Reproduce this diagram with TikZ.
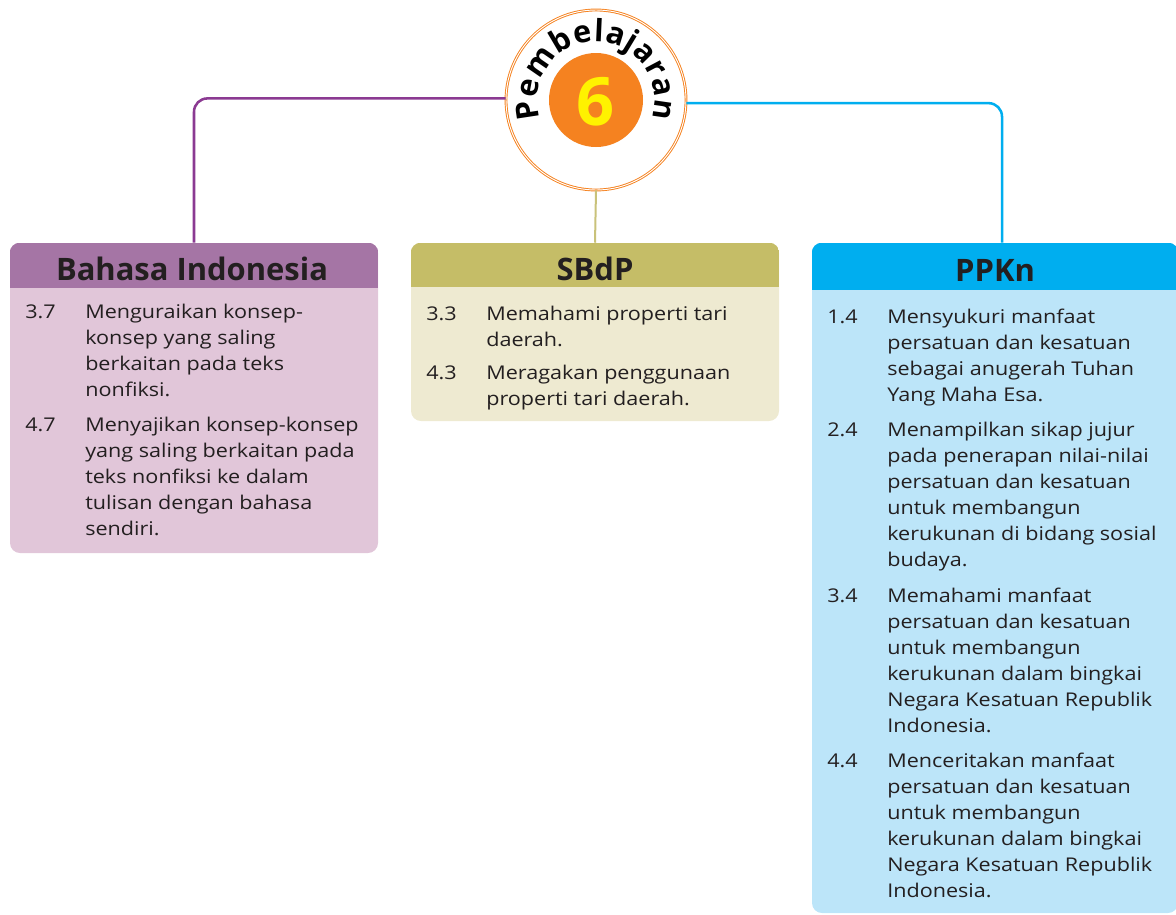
\documentclass[tikz,border=0pt]{standalone}
\usepackage{fontspec}
\setmainfont{Open Sans}
\newfontfamily\isifont[FakeStretch=1.14]{Open Sans}
\usetikzlibrary{positioning,fit,decorations.text}

\definecolor{biline}{HTML}{8B3A92}
\definecolor{bihead}{HTML}{A575A5}
\definecolor{bibody}{HTML}{E1C6D9}
\definecolor{sbline}{HTML}{C9C27A}
\definecolor{sbhead}{HTML}{C5BD67}
\definecolor{sbbody}{HTML}{EEEAD1}
\definecolor{ppline}{HTML}{00AEEF}
\definecolor{pphead}{HTML}{00AEEF}
\definecolor{ppbody}{HTML}{BCE5F9}
\definecolor{jeruk}{HTML}{F58220}
\definecolor{kuning}{HTML}{FFF200}
\definecolor{tinta}{HTML}{231F20}

\tikzset{
  kotak/.style={inner sep=0pt, rounded corners=7.5pt},
  judul/.style={anchor=base, text=tinta, font=\fontsize{23.2}{26}\selectfont\bfseries},
  isi/.style={anchor=north west, inner sep=0pt, text=tinta,
    font=\isifont\fontsize{14.2}{19.5}\selectfont},
  garis/.style={line width=1.9pt, rounded corners=10pt},
}

\begin{document}
\begin{tikzpicture}[x=0.75pt, y=-0.75pt]
\useasboundingbox (0,0) rectangle (1176,914);

% lingkaran pembelajaran
\node[circle, draw=jeruk, double=white, line width=0.7pt, double distance=0.7pt,
  minimum size=135pt, fill=white] (circ) at (596,100) {};
\node[circle, fill=jeruk, minimum size=70.5pt] (enam) at (circ.center) {};
\node[text=kuning, font=\fontsize{50}{50}\selectfont\bfseries] (angka) at ([yshift=-1.5pt]enam.center) {6};
\path[decorate, decoration={text along path, text align={fit to path},
    text={|\fontsize{23}{23}\selectfont\bfseries|Pembelajaran}}]
  ([shift={(198:44pt)}]circ.center) arc[start angle=198, end angle=-18, radius=44pt];

% kotak mata pelajaran
\node[kotak, fill=bibody, fit={(10,243) (378,553)}] (bi) {};
\node[kotak, fill=sbbody, fit={(411,243) (779,421)}] (sb) {};
\node[kotak, fill=ppbody, fit={(812,243) (1178,913)}] (pp) {};
\foreach \n/\c/\h in {bi/bihead/288, sb/sbhead/287, pp/pphead/290}{
  \begin{scope}
    \clip[rounded corners=7.5pt] (\n.north west) rectangle (\n.south east);
    \fill[\c] (\n.north west) rectangle (\n.east |- 0,\h);
  \end{scope}
}

\node[judul] (bijudul) at (192,280) {Bahasa Indonesia};
\node[judul] (sbjudul) at (595,280) {SBdP};
\node[judul] (ppjudul) at (995,281) {PPKn};

% penghubung
\draw[garis, biline] (circ.179) -| (bi.north);
\draw[garis, sbline, line width=1.5pt] (circ.south) -- (sb.north);
\draw[garis, ppline] (circ.358) -| ([xshift=5.25pt]pp.north);

% isi kompetensi
\node[isi] (biisi) at (25,300) {\begin{tabular}{@{}p{45pt}@{}l@{}}
3.7 & Menguraikan konsep-\\
    & konsep yang saling\\
    & berkaitan pada teks\\
    & nonfiksi.\\[7pt]
4.7 & Menyajikan konsep-konsep\\
    & yang saling berkaitan pada\\
    & teks nonfiksi ke dalam\\
    & tulisan dengan bahasa\\
    & sendiri.
\end{tabular}};

\node[isi] (sbisi) at (426,302) {\begin{tabular}{@{}p{45pt}@{}l@{}}
3.3 & Memahami properti tari\\
    & daerah.\\[5pt]
4.3 & Meragakan penggunaan\\
    & properti tari daerah.
\end{tabular}};

\node[isi] (ppisi) at (827,305) {\begin{tabular}{@{}p{45pt}@{}l@{}}
1.4 & Mensyukuri manfaat\\
    & persatuan dan kesatuan\\
    & sebagai anugerah Tuhan\\
    & Yang Maha Esa.\\[7pt]
2.4 & Menampilkan sikap jujur\\
    & pada penerapan nilai-nilai\\
    & persatuan dan kesatuan\\
    & untuk membangun\\
    & kerukunan di bidang sosial\\
    & budaya.\\[7pt]
3.4 & Memahami manfaat\\
    & persatuan dan kesatuan\\
    & untuk membangun\\
    & kerukunan dalam bingkai\\
    & Negara Kesatuan Republik\\
    & Indonesia.\\[7pt]
4.4 & Menceritakan manfaat\\
    & persatuan dan kesatuan\\
    & untuk membangun\\
    & kerukunan dalam bingkai\\
    & Negara Kesatuan Republik\\
    & Indonesia.
\end{tabular}};
\end{tikzpicture}
\end{document}
